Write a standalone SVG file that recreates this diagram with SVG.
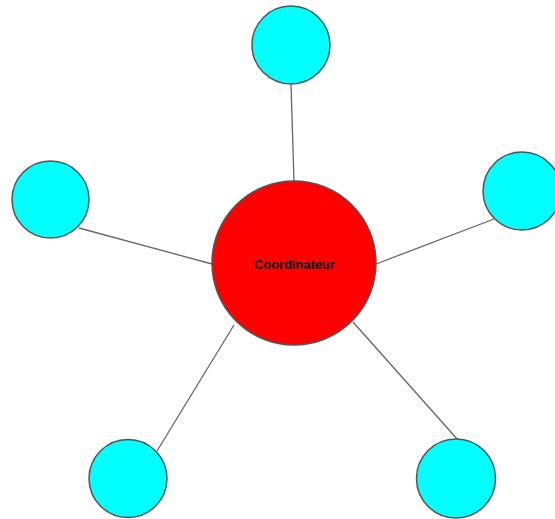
<svg xmlns="http://www.w3.org/2000/svg" width="555" height="519" viewBox="0 0 555 519">
<style>
.edge{stroke:#666;stroke-width:1.3;fill:none}
.leaf{fill:#00ffff;stroke:#555;stroke-width:1.5}
.hub{fill:#ff0000;stroke:#555;stroke-width:1.5}
.lbl{font-family:"Liberation Sans",Arial,sans-serif;font-size:12.8px;font-weight:bold;fill:#000}
</style>
<rect width="555" height="519" fill="#fff"/>
<g id="connectors">
<line class="edge" x1="291" y1="84" x2="294" y2="181"/>
<line class="edge" x1="79" y1="228" x2="212" y2="264"/>
<line class="edge" x1="494" y1="219" x2="376" y2="264"/>
<line class="edge" x1="157" y1="451" x2="234" y2="325"/>
<line class="edge" x1="353" y1="322" x2="458" y2="440"/>
</g>
<g id="hub"><circle class="hub" cx="294" cy="263" r="82"/><text class="lbl" x="294.5" y="268.5" text-anchor="middle">Coordinateur</text></g>
<g id="n-top"><circle class="leaf" cx="291" cy="45" r="39"/></g>
<g id="n-left"><circle class="leaf" cx="50.5" cy="199.5" r="38.5"/></g>
<g id="n-right"><circle class="leaf" cx="522" cy="191" r="39"/></g>
<g id="n-bl"><circle class="leaf" cx="128" cy="478.5" r="39"/></g>
<g id="n-br"><circle class="leaf" cx="456" cy="478.5" r="39.5"/></g>
</svg>
